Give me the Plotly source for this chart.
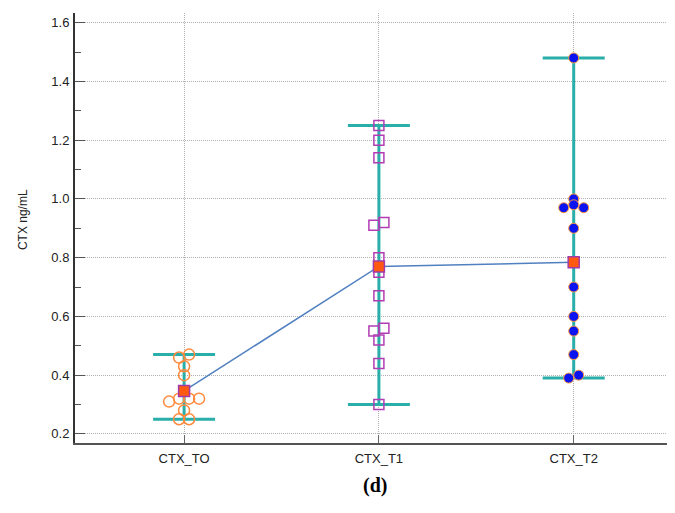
import numpy as np
import plotly.graph_objects as go

# ---------------- data ----------------
categories = ["CTX_TO", "CTX_T1", "CTX_T2"]
ctx_t0 = [0.47, 0.46, 0.43, 0.40, 0.32, 0.32, 0.32, 0.31, 0.28, 0.25, 0.25]
ctx_t1 = [1.25, 1.20, 1.14, 0.92, 0.91, 0.80, 0.75, 0.67, 0.56, 0.55, 0.52, 0.44, 0.30]
ctx_t2 = [1.48, 1.00, 0.98, 0.97, 0.97, 0.90, 0.70, 0.60, 0.55, 0.47, 0.40, 0.39]
y_ticks = [0.2, 0.4, 0.6, 0.8, 1.0, 1.2, 1.4, 1.6]
y_title = "CTX ng/mL"
caption = "(d)"

groups = [ctx_t0, ctx_t1, ctx_t2]

# ---------------- layout constants ----------------
# the page body adds an 8px offset, so the figure is 8px smaller
W, H = 667, 505
M_L, M_R, M_T, M_B = 67, 0, 5, 70
Y_RANGE = [0.169, 1.633]
X_RANGE = [-0.56, 2.52]
plot_w = W - M_L - M_R
plot_h = H - M_T - M_B
px_per_y = plot_h / (Y_RANGE[1] - Y_RANGE[0])
px_per_x = plot_w / (X_RANGE[1] - X_RANGE[0])


def swarm_offsets(vals, diam=10.0, thresh=5.0):
    """Centered beeswarm: values closer than `thresh` px form a row."""
    vals = np.asarray(vals, dtype=float)
    order = np.argsort(vals, kind="stable")
    offs = np.zeros(len(vals))
    rows, cur = [], [order[0]]
    for a, b in zip(order[:-1], order[1:]):
        if (vals[b] - vals[a]) * px_per_y < thresh:
            cur.append(b)
        else:
            rows.append(cur)
            cur = [b]
    rows.append(cur)
    for row in rows:
        n = len(row)
        if n % 2 == 0:
            for i, idx in enumerate(row):
                offs[idx] = (i - (n - 1) / 2) * diam / px_per_x
        else:
            slots = [0]
            for k in range(1, n // 2 + 1):
                slots += [-k, k]
            for s, idx in zip(slots, row[::-1]):
                offs[idx] = s * diam / px_per_x
    return offs


means = [float(np.mean(g)) for g in groups]
mins = [float(np.min(g)) for g in groups]
maxs = [float(np.max(g)) for g in groups]
xpos = list(range(len(categories)))

TEAL = "#2aaeaa"
fig = go.Figure()

# min-max whiskers
fig.add_trace(go.Scatter(
    x=xpos, y=means, mode="markers",
    marker=dict(size=1, opacity=0),
    error_y=dict(type="data", symmetric=False,
                 array=[mx - m for mx, m in zip(maxs, means)],
                 arrayminus=[m - mn for m, mn in zip(means, mins)],
                 color=TEAL, thickness=3, width=31),
    hoverinfo="skip", showlegend=False))

styles = [
    dict(symbol="circle-open", size=11, color="#ff8a3d", line=dict(width=1.5, color="#ff8a3d")),
    dict(symbol="square-open", size=10, color="#b23cb4", line=dict(width=1.5, color="#b23cb4")),
    dict(symbol="circle", size=10, color="#0a14f0", line=dict(width=1, color="#ff9a3c")),
]
for i, (g, st) in enumerate(zip(groups, styles)):
    offs = swarm_offsets(g)
    fig.add_trace(go.Scatter(
        x=[i + o for o in offs], y=g, mode="markers",
        marker=st, showlegend=False, name=categories[i]))

# mean line
fig.add_trace(go.Scatter(
    x=xpos, y=means, mode="lines",
    line=dict(color="#5080c0", width=1.5), showlegend=False))
# mean markers
fig.add_trace(go.Scatter(
    x=xpos, y=means, mode="markers",
    marker=dict(symbol="square", size=11, color="#ff5a10",
                line=dict(width=1.5, color="#a23aa8")),
    showlegend=False))

FONT = "Arial, Liberation Sans, sans-serif"
GRID = dict(showgrid=True, gridcolor="#b0b0b0", griddash="1px,1px", gridwidth=1)
fig.update_layout(
    width=W, height=H,
    margin=dict(l=M_L, r=M_R, t=M_T, b=M_B, pad=0),
    paper_bgcolor="white", plot_bgcolor="white",
    font=dict(family=FONT, size=13, color="#222222"),
    xaxis=dict(
        range=X_RANGE, tickmode="array", tickvals=xpos, ticktext=categories,
        automargin=False, **GRID,
        zeroline=False, showline=True, linecolor="#555555", linewidth=2,
        ticks="inside", ticklen=8, tickcolor="#666666", tickwidth=1,
        ticklabelstandoff=2, tickfont=dict(size=13, color="#222222"),
    ),
    yaxis=dict(
        range=Y_RANGE, tickmode="array", tickvals=y_ticks,
        ticktext=[f"{v:.1f}" for v in y_ticks],
        automargin=False, **GRID,
        zeroline=False, showline=True, linecolor="#333333", linewidth=2,
        ticks="inside", ticklen=10, tickcolor="#555555", tickwidth=1,
        minor=dict(tickmode="array", tickvals=[0.3, 0.5, 0.7, 0.9, 1.1, 1.3, 1.5],
                   ticks="inside", ticklen=6, tickcolor="#555555", showgrid=False),
        ticklabelstandoff=1, tickfont=dict(size=13, color="#222222"),
    ),
    annotations=[
        dict(text=y_title, textangle=-90, xref="paper", yref="y",
             x=0, y=0.928, xshift=-52, xanchor="center", yanchor="middle",
             showarrow=False, font=dict(family=FONT, size=12, color="#222222")),
        dict(text=f"<b>{caption}</b>", xref="paper", yref="paper",
             x=0.5, y=0, yshift=-42, xanchor="center", yanchor="middle",
             showarrow=False,
             font=dict(family="Liberation Serif, Times New Roman, serif", size=20, color="#000000")),
    ],
)

fig.write_html("out.html")
